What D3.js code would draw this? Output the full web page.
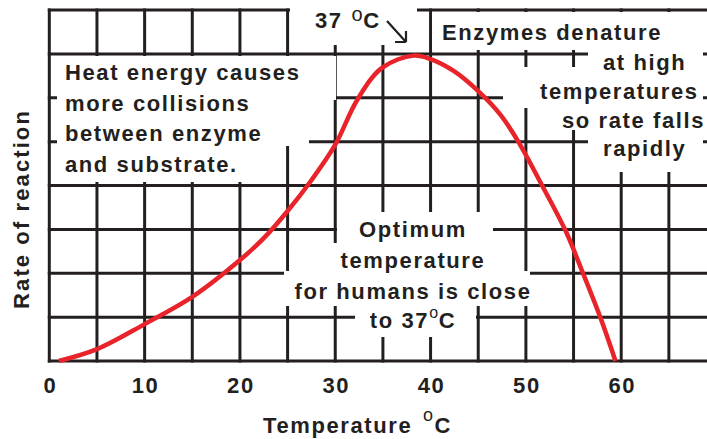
<!DOCTYPE html>
<html>
<head>
<meta charset="utf-8">
<script src="https://cdn.jsdelivr.net/npm/d3@7"></script>
<style>
  body { margin: 0; background: #fff; }
  svg text { font-family: 'Liberation Sans', Arial, sans-serif; font-weight: bold; fill: #231f20; letter-spacing: 1.6px; }
</style>
</head>
<body>
<div id="chart"></div>
<script>
//data
var temps = [1, 5, 10, 15, 20, 22.5, 25, 27.5, 30, 32.3, 34.9, 38.2, 40, 42.5, 45, 47.3, 49.2, 51.7, 54.2, 55.9, 57.8, 59.4]
var rates = [0, 0.27, 0.84, 1.46, 2.3, 2.8, 3.42, 4.12, 4.93, 5.95, 6.68, 6.96, 6.88, 6.6, 6.15, 5.62, 5.0, 4.0, 2.95, 2.05, 1.0, 0]
var xGrid = d3.range(0, 70, 5)
var yGrid = d3.range(0, 9, 1)
var xTickLabels = [0, 10, 20, 30, 40, 50, 60]

var width = 707
var height = 439
var ink = '#231f20'
var red = '#e8232a'

var x = d3.scaleLinear().domain([0, 69]).range([49.3, 707])
var y = d3.scaleLinear().domain([0, 8]).range([361, 10])

var svg = d3
  .select('#chart')
  .append('svg')
  .attr('width', width)
  .attr('height', height)

//grid
var grid = svg.append('g').attr('stroke', ink).attr('stroke-width', 3)
grid
  .selectAll('line.v')
  .data(xGrid)
  .enter()
  .append('line')
  .attr('x1', function(d) { return x(d) })
  .attr('x2', function(d) { return x(d) })
  .attr('y1', y(8) - 1.5)
  .attr('y2', y(0) + 1.5)
grid
  .selectAll('line.h')
  .data(yGrid)
  .enter()
  .append('line')
  .attr('x1', x(0) - 1.5)
  .attr('x2', width)
  .attr('y1', function(d) { return y(d) })
  .attr('y2', function(d) { return y(d) })

//white patches behind the text boxes (pixel rects: x0, y0, x1, y1)
var patches = [
  [290, 0, 417, 45],
  [57, 56, 336, 100],
  [57, 100, 309, 146],
  [57, 146, 285, 182],
  [432, 12, 707, 50],
  [588, 50, 703, 172],
  [503, 67, 560, 108],
  [560, 67, 588, 130],
  [337, 212, 493, 243],
  [289, 243, 502, 271],
  [284, 271, 530, 306],
  [355, 306, 476, 337]
]
svg
  .append('g')
  .selectAll('rect')
  .data(patches)
  .enter()
  .append('rect')
  .attr('x', function(d) { return d[0] })
  .attr('y', function(d) { return d[1] })
  .attr('width', function(d) { return d[2] - d[0] })
  .attr('height', function(d) { return d[3] - d[1] })
  .attr('fill', '#fff')

//the curve
var line = d3
  .line()
  .x(function(d, i) { return x(temps[i]) })
  .y(function(d) { return y(d) })
  .curve(d3.curveCatmullRom.alpha(0.5))
svg
  .append('path')
  .attr('d', line(rates))
  .attr('fill', 'none')
  .attr('stroke', red)
  .attr('stroke-width', 4.5)

//tick labels
svg
  .append('g')
  .selectAll('text')
  .data(xTickLabels)
  .enter()
  .append('text')
  .attr('x', function(d) { return x(d) + 1 })
  .attr('y', 393)
  .attr('text-anchor', 'middle')
  .style('font-size', '22px')
  .text(function(d) { return d })

//a line of text, "°" is drawn as a raised small o
function addLine(g, t, px, py, anchor, sup) {
  sup = sup || { size: 14, dy: -10, odx: 0, cdx: 0 }
  var txt = g
    .append('text')
    .attr('x', px)
    .attr('y', py)
    .attr('text-anchor', anchor || 'start')
    .style('font-size', '22px')
  var parts = t.split('°')
  txt.append('tspan').text(parts[0])
  if (parts.length > 1) {
    txt
      .append('tspan')
      .attr('dy', sup.dy)
      .attr('dx', sup.odx || 0)
      .style('font-size', sup.size + 'px')
      .style('font-weight', 'normal')
      .text('o')
    txt
      .append('tspan')
      .attr('dy', -sup.dy)
      .attr('dx', sup.cdx)
      .text(parts[1])
  }
  return txt
}

var notes = svg.append('g')
var heatLines = ['Heat energy causes', 'more collisions', 'between enzyme', 'and substrate.']
heatLines.forEach(function(t, i) {
  addLine(notes, t, 65, 80 + i * 30.5)
})

var denatureLines = ['Enzymes denature', 'at high', 'temperatures', 'so rate falls', 'rapidly']
var denatureX = [442, 603, 540, 562, 603]
var denatureY = [40, 70, 99, 128, 156]
denatureLines.forEach(function(t, i) {
  addLine(notes, t, denatureX[i], denatureY[i])
})

var optimumLines = ['Optimum', 'temperature', 'for humans is close', 'to 37°C']
var optimumY = [237, 268, 299, 328]
optimumLines.forEach(function(t, i) {
  addLine(notes, t, 413, optimumY[i], 'middle', { size: 16, dy: -10, cdx: -1 })
})

addLine(notes, '37 °C', 315, 28, 'start', { size: 20, dy: -7, odx: 1, cdx: -1 })
svg
  .append('path')
  .attr('d', 'M387,21L406,42M406,42L406,31M406,42L395,42')
  .attr('fill', 'none')
  .attr('stroke', ink)
  .attr('stroke-width', 2.2)

//axis titles
addLine(svg, 'Temperature °C', 263, 433, 'start', { size: 18, dy: -12, odx: 3, cdx: 0 })
svg
  .append('text')
  .attr('transform', 'translate(29,209) rotate(-90)')
  .attr('text-anchor', 'middle')
  .style('font-size', '22px')
  .style('letter-spacing', '2.1px')
  .text('Rate of reaction')
</script>
</body>
</html>
